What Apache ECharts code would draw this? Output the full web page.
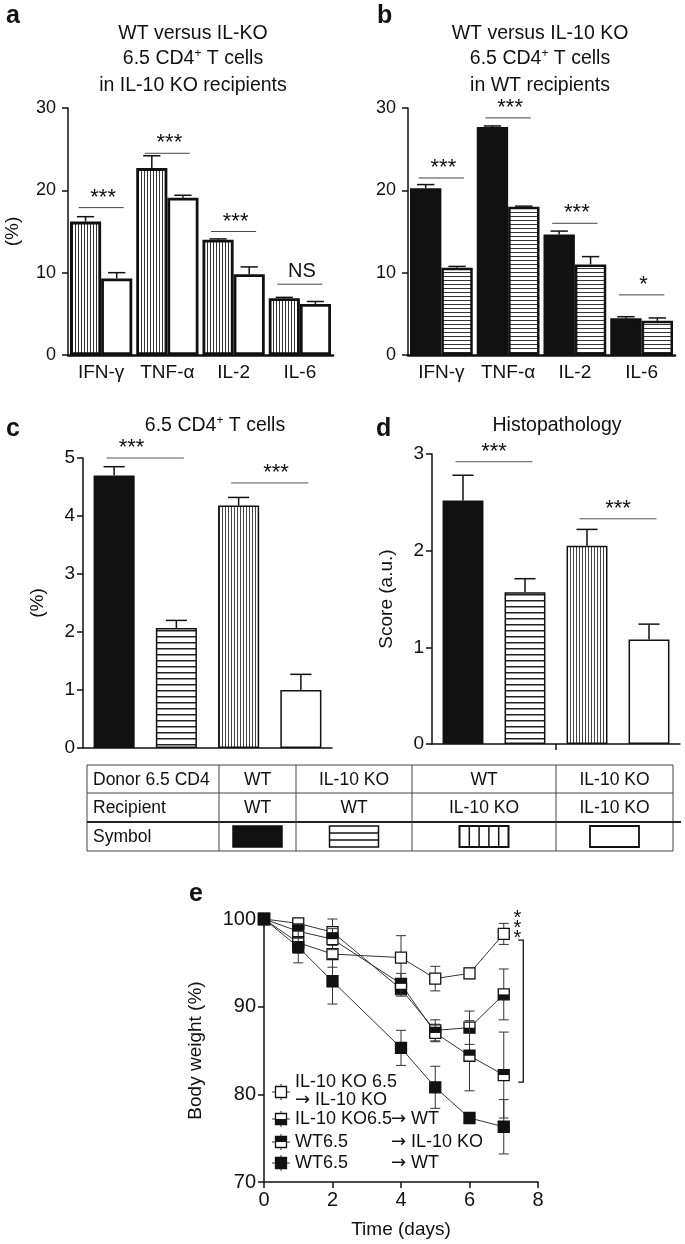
<!DOCTYPE html>
<html><head><meta charset="utf-8">
<script src="https://cdn.jsdelivr.net/npm/echarts@6/dist/echarts.min.js"></script>
<style>html,body{margin:0;padding:0;background:#fff}#c{width:685px;height:1244px}</style>
</head><body><div id="c"></div>
<script>
// ---------------- DATA ----------------
const cytokines = ['IFN-γ', 'TNF-α', 'IL-2', 'IL-6'];
// panel a: WT vs IL-10 KO 6.5 CD4+ T cells in IL-10 KO recipients (%)
const aWT = [16.2, 22.7, 14.0, 6.9];
const aWTErr = [0.6, 1.5, 0.1, 0.1];
const aKO = [9.3, 19.1, 9.8, 6.2];
const aKOErr = [0.7, 0.3, 0.9, 0.3];
const aSig = [17.9, 24.5, 15.0, 8.6];
const aSigLabels = ['***', '***', '***', 'NS'];
// panel b: in WT recipients (%)
const bWT = [20.25, 27.7, 14.65, 4.45];
const bWTErr = [0.45, 0.12, 0.4, 0.2];
const bKO = [10.6, 18.0, 11.0, 4.15];
const bKOErr = [0.16, 0.08, 0.95, 0.35];
const bSig = [21.5, 28.8, 16.0, 7.3];
const bSigLabels = ['***', '***', '***', '*'];
// panels c, d: groups (donor -> recipient)
const groups = ['WT→WT', 'IL-10 KO→WT', 'WT→IL-10 KO', 'IL-10 KO→IL-10 KO'];
const cVals = [4.7, 2.07, 4.18, 1.0];
const cErr = [0.15, 0.13, 0.14, 0.27];
const cSig = [[0, 1, 5.0, '***'], [2, 3, 4.57, '***']];
const dVals = [2.52, 1.57, 2.05, 1.08];
const dErr = [0.26, 0.14, 0.17, 0.16];
const dSig = [[0, 1, 2.92, '***'], [2, 3, 2.33, '***']];
// table
const tableRows = [
  ['Donor 6.5 CD4', 'WT', 'IL-10 KO', 'WT', 'IL-10 KO'],
  ['Recipient', 'WT', 'WT', 'IL-10 KO', 'IL-10 KO'],
  ['Symbol']
];
// panel e: body weight (%)
const days = [0, 1, 2, 4, 5, 6, 7];
const eKOtoKO = [100, 97.3, 96.0, 95.6, 93.2, 93.8, 98.3];
const eKOtoKOErr = [0, 1.2, 1.5, 2.5, 1.4, 0.6, 1.2];
const eKOtoWT = [100, 99.5, 98.5, 92.0, 87.3, 87.6, 91.4];
const eKOtoWTErr = [0, 0.5, 1.5, 0.8, 1.2, 1.9, 2.9];
const eWTtoKO = [100, 98.6, 97.7, 92.6, 87.0, 84.4, 82.2];
const eWTtoKOErr = [0, 0.8, 1.2, 1.2, 1.0, 4.0, 4.9];
const eWTtoWT = [100, 96.8, 92.9, 85.3, 80.8, 77.3, 76.3];
const eWTtoWTErr = [0, 1.8, 2.6, 2.0, 2.4, 0.5, 3.1];
const eBracket = [[7.57, 97.6, 81.4, '***']];
const eTicksX = [0, 2, 4, 6, 8];
const eTicksY = [70, 80, 90, 100];

// ---------------- STYLE HELPERS ----------------
const FONT = '"Liberation Sans", Arial, Helvetica, sans-serif';
const INK = '#111';
function hatch(dir, gap, lw, color) {
  const c = document.createElement('canvas');
  c.width = dir === 'v' ? gap : 8; c.height = dir === 'v' ? 8 : gap;
  const ctx = c.getContext('2d');
  ctx.fillStyle = '#fff'; ctx.fillRect(0, 0, c.width, c.height);
  ctx.fillStyle = color;
  if (dir === 'v') ctx.fillRect(0, 0, lw, c.height); else ctx.fillRect(0, 0, c.width, lw);
  return { image: c, repeat: 'repeat' };
}
const vHatchA = hatch('v', 3, 1, '#333');
const hHatchB = hatch('h', 4, 1, '#333');
const vHatchC = hatch('v', 3, 1, '#444');
const hHatchC = hatch('h', 6, 1.5, '#222');

function errRender(offFrac, capFrac, lw) {
  return function (params, api) {
    const cat = api.value(0), v = api.value(1), e = api.value(2);
    const band = api.size([1, 0])[0];
    const p0 = api.coord([cat, v]), p1 = api.coord([cat, v + e]);
    const x = p0[0] + offFrac * band, h = capFrac * band / 2;
    return { type: 'group', children: [
      { type: 'line', shape: { x1: x, y1: p0[1], x2: x, y2: p1[1] }, style: { stroke: INK, lineWidth: lw } },
      { type: 'line', shape: { x1: x - h, y1: p1[1], x2: x + h, y2: p1[1] }, style: { stroke: INK, lineWidth: lw } }
    ] };
  };
}
function sigGroupRender(labels, spanFrac) {
  return function (params, api) {
    const cat = api.value(0), y = api.value(1);
    const band = api.size([1, 0])[0];
    const p = api.coord([cat, y]);
    const lab = labels[params.dataIndex];
    const isStar = lab.indexOf('*') >= 0;
    return { type: 'group', children: [
      { type: 'line', shape: { x1: p[0] - spanFrac * band, y1: p[1], x2: p[0] + spanFrac * band, y2: p[1] }, style: { stroke: '#444', lineWidth: 1 } },
      { type: 'text', x: p[0] + 2, y: p[1] - (isStar ? -1 : 3), style: { text: lab, fontFamily: FONT, fontSize: isStar ? 22 : 20, fill: INK, align: 'center', verticalAlign: 'bottom' } }
    ] };
  };
}
function sigPairRender(ext, labelShift) {
  return function (params, api) {
    const a = api.value(0), b = api.value(1), y = api.value(2);
    const band = api.size([1, 0])[0];
    const pa = api.coord([a, y]), pb = api.coord([b, y]);
    const x1 = pa[0] - ext * band, x2 = pb[0] + ext * band;
    return { type: 'group', children: [
      { type: 'line', shape: { x1: x1, y1: pa[1], x2: x2, y2: pa[1] }, style: { stroke: '#555', lineWidth: 1 } },
      { type: 'text', x: (x1 + x2) / 2 + labelShift[params.dataIndex] * band, y: pa[1] + 1, style: { text: '***', fontFamily: FONT, fontSize: 22, fill: INK, align: 'center', verticalAlign: 'bottom' } }
    ] };
  };
}
function markerRender(kind) {
  return function (params, api) {
    const d = api.value(0), v = api.value(1), e = api.value(2);
    const p = api.coord([d, v]);
    const ch = [];
    if (e > 0) {
      const pt = api.coord([d, v + e]), pb = api.coord([d, v - e]);
      ch.push({ type: 'line', shape: { x1: p[0], y1: pt[1], x2: p[0], y2: pb[1] }, style: { stroke: '#333', lineWidth: 1 } });
      ch.push({ type: 'line', shape: { x1: p[0] - 5, y1: pt[1], x2: p[0] + 5, y2: pt[1] }, style: { stroke: '#333', lineWidth: 1 } });
      ch.push({ type: 'line', shape: { x1: p[0] - 5, y1: pb[1], x2: p[0] + 5, y2: pb[1] }, style: { stroke: '#333', lineWidth: 1 } });
    }
    ch.push.apply(ch, squareEls(p[0], p[1], kind));
    return { type: 'group', children: ch };
  };
}
function squareEls(cx, cy, kind) {
  const s = 11, x = cx - s / 2, y = cy - s / 2;
  const els = [{ type: 'rect', shape: { x: x, y: y, width: s, height: s }, style: { fill: kind === 'filled' ? INK : '#fff', stroke: INK, lineWidth: 1.3 } }];
  if (kind === 'bottomFilled') els.push({ type: 'rect', shape: { x: x, y: cy, width: s, height: s / 2 }, style: { fill: INK } });
  if (kind === 'topFilled') els.push({ type: 'rect', shape: { x: x, y: y, width: s, height: s / 2 }, style: { fill: INK } });
  return els;
}
function bracketRender(params, api) {
  const x = api.value(0), y1 = api.value(1), y2 = api.value(2);
  const pt = api.coord([x, y1]), pb = api.coord([x, y2]);
  const ch = [
    { type: 'polyline', shape: { points: [[pt[0] - 5, pt[1]], [pt[0], pt[1]], [pb[0], pb[1]], [pb[0] - 5, pb[1]]] }, style: { stroke: INK, lineWidth: 1.3, fill: null } }
  ];
  for (let i = 0; i < 3; i++) {
    ch.push({ type: 'text', x: pt[0] - 6, y: pt[1] - 22 + i * 10, style: { text: '*', fontFamily: FONT, fontSize: 20, fill: INK, align: 'center', verticalAlign: 'middle' } });
  }
  return { type: 'group', children: ch };
}

// ---------------- AXES ----------------
const axLine = (w) => ({ show: true, lineStyle: { color: INK, width: w } });
function catAxis(grid, labels, showLabel) {
  return {
    type: 'category', gridIndex: grid, data: labels, boundaryGap: true,
    axisLine: axLine(grid < 2 ? 2.5 : 1.5), axisTick: { show: false },
    axisLabel: { show: showLabel, interval: 0, fontFamily: FONT, fontSize: 19, color: INK, margin: 8 },
    splitLine: { show: false }
  };
}
function valAxis(grid, min, max, interval, name, nameGap, fs, margin) {
  return {
    type: 'value', gridIndex: grid, min: min, max: max, interval: interval,
    axisLine: axLine(1.5), axisTick: { show: true, inside: false, length: 6, lineStyle: { color: INK, width: 1.5 } },
    axisLabel: { fontFamily: FONT, fontSize: fs, color: INK, margin: margin },
    splitLine: { show: false },
    name: name, nameLocation: 'middle', nameGap: nameGap,
    nameTextStyle: { fontFamily: FONT, fontSize: 19, color: INK }
  };
}
const xAxes = [
  catAxis(0, cytokines, true),
  catAxis(1, cytokines, true),
  catAxis(2, groups, false),
  catAxis(3, groups, false),
  {
    type: 'value', gridIndex: 4, min: 0, max: 8, interval: 2,
    axisLine: axLine(1.5), axisTick: { show: true, length: 6, lineStyle: { color: INK, width: 1.5 } },
    axisLabel: { fontFamily: FONT, fontSize: 20, color: INK, margin: 8 },
    splitLine: { show: false },
    name: 'Time (days)', nameLocation: 'middle', nameGap: 38,
    nameTextStyle: { fontFamily: FONT, fontSize: 19, color: INK }
  }
];
const yAxes = [
  valAxis(0, 0, 30, 10, '(%)', 46, 18, 12),
  valAxis(1, 0, 30, 10, '', 40, 18, 12),
  valAxis(2, 0, 5, 1, '(%)', 36, 19, 8),
  valAxis(3, 0, 3, 1, 'Score (a.u.)', 36, 19, 8),
  Object.assign(valAxis(4, 70, 100, 10, 'Body weight (%)', 56, 20, 5), { offset: 3 })
];

// ---------------- SERIES ----------------
const barBase = (name, x, data, color, bw, lw, width) => ({
  type: 'bar', name: name, xAxisIndex: x, yAxisIndex: x, data: data,
  barWidth: width, barGap: '0%',
  itemStyle: { color: color, borderColor: INK, borderWidth: bw }
});
const custom = (x, data, render, z) => ({
  type: 'custom', xAxisIndex: x, yAxisIndex: x, data: data, renderItem: render, clip: false, z: z || 5,
  silent: true
});
const series = [];
// a
series.push(barBase('WT 6.5 → IL-10 KO', 0, aWT, vHatchA, 2.8, 0, '47%'));
series.push(barBase('IL-10 KO 6.5 → IL-10 KO', 0, aKO, '#fff', 2.8, 0, '47%'));
series.push(custom(0, aWT.map((v, i) => [i, v, aWTErr[i]]), errRender(-0.235, 0.26, 1.5)));
series.push(custom(0, aKO.map((v, i) => [i, v, aKOErr[i]]), errRender(0.235, 0.26, 1.5)));
series.push(custom(0, aSig.map((v, i) => [i, v]), sigGroupRender(aSigLabels, 0.34)));
// b
series.push(barBase('WT 6.5 → WT', 1, bWT, INK, 2, 0, '47%'));
series.push(barBase('IL-10 KO 6.5 → WT', 1, bKO, hHatchB, 2.5, 0, '47%'));
series.push(custom(1, bWT.map((v, i) => [i, v, bWTErr[i]]), errRender(-0.235, 0.26, 1.5)));
series.push(custom(1, bKO.map((v, i) => [i, v, bKOErr[i]]), errRender(0.235, 0.26, 1.5)));
series.push(custom(1, bSig.map((v, i) => [i, v]), sigGroupRender(bSigLabels, 0.34)));
// c, d
const groupFills = [
  { color: INK }, { color: hHatchC }, { color: vHatchC }, { color: '#fff' }
];
function groupData(vals) {
  return vals.map((v, i) => ({ value: v, itemStyle: { color: groupFills[i].color, borderColor: INK, borderWidth: 1.5 } }));
}
series.push(barBase('6.5 CD4+ T cells', 2, groupData(cVals), INK, 1.5, 0, '66%'));
series.push(custom(2, cVals.map((v, i) => [i, v, cErr[i]]), errRender(0, 0.34, 1.5)));
series.push(custom(2, cSig, sigPairRender(0.12, [-0.22, 0.1])));
series.push(barBase('Histopathology', 3, groupData(dVals), INK, 1.5, 0, '66%'));
series.push(custom(3, dVals.map((v, i) => [i, v, dErr[i]]), errRender(0, 0.34, 1.5)));
series.push(custom(3, dSig, sigPairRender(0.12, [0, 0])));
// e
const eSeries = [
  ['IL-10 KO 6.5 → IL-10 KO', eKOtoKO, eKOtoKOErr, 'open'],
  ['IL-10 KO6.5 → WT', eKOtoWT, eKOtoWTErr, 'bottomFilled'],
  ['WT6.5 → IL-10 KO', eWTtoKO, eWTtoKOErr, 'topFilled'],
  ['WT6.5 → WT', eWTtoWT, eWTtoWTErr, 'filled']
];
eSeries.forEach((s) => {
  series.push({ type: 'line', name: s[0], xAxisIndex: 4, yAxisIndex: 4, data: days.map((d, i) => [d, s[1][i]]), symbol: 'none', lineStyle: { color: '#333', width: 1 }, z: 2 });
});
eSeries.forEach((s, k) => {
  series.push(custom(4, days.map((d, i) => [d, s[1][i], s[2][i]]), markerRender(s[3]), 6 + k));
});
series.push(custom(4, eBracket, bracketRender));

// ---------------- GRAPHIC (titles, letters, table, legend) ----------------
const T = (x, y, text, fs, opts) => Object.assign({
  type: 'text', x: x, y: y,
  style: Object.assign({ text: text, fontFamily: FONT, fontSize: fs, fill: INK, align: 'center', verticalAlign: 'middle',
    rich: {
      sup: { fontSize: 12, fontFamily: FONT, fill: INK, verticalAlign: 'top', padding: [0, 0, 10, 0] },
      n: { fontSize: fs, fontFamily: FONT, fill: INK },
      ar: { fontSize: fs, fontFamily: '"DejaVu Sans", sans-serif', fill: INK }
    } }, opts || {})
});
const graphic = [];
// panel letters
[['a', 6, 16], ['b', 377, 16], ['c', 6, 429], ['d', 376, 429], ['e', 189, 894]].forEach((l) => {
  graphic.push(T(l[1], l[2], l[0], 25, { fontWeight: 'bold', align: 'left' }));
});
// titles
graphic.push(T(193, 34, 'WT versus IL-KO', 19.5));
graphic.push(T(193, 59, '{n|6.5 CD4}{sup|+}{n| T cells}', 19.5));
graphic.push(T(193, 86, 'in IL-10 KO recipients', 19.5));
graphic.push(T(540, 34, 'WT versus IL-10 KO', 19.5));
graphic.push(T(540, 59, '{n|6.5 CD4}{sup|+}{n| T cells}', 19.5));
graphic.push(T(540, 86, 'in WT recipients', 19.5));
graphic.push(T(215, 426, '{n|6.5 CD4}{sup|+}{n| T cells}', 19.5));
graphic.push(T(557, 426, 'Histopathology', 19.5));
// table
const tX = [87, 219, 296, 412, 556, 673];
const tY = [765, 793, 822, 851];
graphic.push({ type: 'rect', shape: { x: tX[0], y: tY[0], width: tX[5] - tX[0], height: tY[3] - tY[0] }, style: { fill: null, stroke: '#444', lineWidth: 1 } });
graphic.push({ type: 'line', shape: { x1: tX[0], y1: tY[1], x2: tX[5], y2: tY[1] }, style: { stroke: '#444', lineWidth: 1 } });
graphic.push({ type: 'line', shape: { x1: tX[0], y1: tY[2], x2: tX[5] + 8, y2: tY[2] }, style: { stroke: '#222', lineWidth: 2 } });
for (let i = 1; i < 5; i++) graphic.push({ type: 'line', shape: { x1: tX[i], y1: tY[0], x2: tX[i], y2: tY[3] }, style: { stroke: '#444', lineWidth: 1 } });
tableRows.forEach((row, r) => {
  const cy = (tY[r] + tY[r + 1]) / 2 + 1;
  row.forEach((txt, c) => {
    if (c === 0) graphic.push(T(tX[0] + 6, cy, txt, 17.5, { align: 'left' }));
    else graphic.push(T((tX[c] + tX[c + 1]) / 2, cy, txt, 17.5));
  });
});
(function () {
  const cy = (tY[2] + tY[3]) / 2, w = 49, h = 21;
  const cx = [1, 2, 3, 4].map((c) => (tX[c] + tX[c + 1]) / 2);
  graphic.push({ type: 'rect', shape: { x: cx[0] - w / 2, y: cy - h / 2, width: w, height: h }, style: { fill: INK, stroke: INK, lineWidth: 1.5 } });
  graphic.push({ type: 'rect', shape: { x: cx[1] - w / 2, y: cy - h / 2, width: w, height: h }, style: { fill: '#fff', stroke: INK, lineWidth: 1.5 } });
  for (let k = 1; k < 3; k++) graphic.push({ type: 'line', shape: { x1: cx[1] - w / 2, y1: cy - h / 2 + k * h / 3, x2: cx[1] + w / 2, y2: cy - h / 2 + k * h / 3 }, style: { stroke: INK, lineWidth: 1.5 } });
  graphic.push({ type: 'rect', shape: { x: cx[2] - w / 2, y: cy - h / 2, width: w, height: h }, style: { fill: '#fff', stroke: INK, lineWidth: 2 } });
  for (let k = 1; k < 5; k++) graphic.push({ type: 'line', shape: { x1: cx[2] - w / 2 + k * w / 5, y1: cy - h / 2, x2: cx[2] - w / 2 + k * w / 5, y2: cy + h / 2 }, style: { stroke: INK, lineWidth: 1.5 } });
  graphic.push({ type: 'rect', shape: { x: cx[3] - w / 2, y: cy - h / 2, width: w, height: h }, style: { fill: '#fff', stroke: INK, lineWidth: 1.8 } });
})();
// panel e legend
const legendRows = [
  { y: 1092, kind: 'open', lines: [['IL-10 KO 6.5', 295, 1082], ['{ar|→} IL-10 KO', 295, 1100]] },
  { y: 1119, kind: 'bottomFilled', lines: [['IL-10 KO6.5', 295, 1119], ['{ar|→} WT', 391, 1119]] },
  { y: 1142, kind: 'topFilled', lines: [['WT6.5', 295, 1142], ['{ar|→} IL-10 KO', 391, 1142]] },
  { y: 1163, kind: 'filled', lines: [['WT6.5', 295, 1163], ['{ar|→} WT', 391, 1163]] }
];
legendRows.forEach((r) => {
  graphic.push({ type: 'line', shape: { x1: 272, y1: r.y, x2: 290, y2: r.y }, style: { stroke: '#333', lineWidth: 1 } });
  graphic.push({ type: 'line', shape: { x1: 281, y1: r.y - 8, x2: 281, y2: r.y + 8 }, style: { stroke: '#333', lineWidth: 1 } });
  squareEls(281, r.y, r.kind).forEach((e) => graphic.push(e));
  r.lines.forEach((l) => graphic.push(T(l[1], l[2], l[0], 18, { align: 'left' })));
});

const chart = echarts.init(document.getElementById('c'), null, { renderer: 'canvas', width: 685, height: 1244 });
chart.setOption({
  backgroundColor: '#fff',
  animation: false,
  grid: [
    { left: 68, top: 108, width: 265, height: 247, containLabel: false, outerBoundsMode: 'none' },
    { left: 408, top: 108, width: 267, height: 247, containLabel: false, outerBoundsMode: 'none' },
    { left: 83, top: 458, width: 249, height: 290, containLabel: false, outerBoundsMode: 'none' },
    { left: 432, top: 454, width: 248, height: 290, containLabel: false, outerBoundsMode: 'none' },
    { left: 264, top: 919, width: 274, height: 263, containLabel: false, outerBoundsMode: 'none' }
  ],
  xAxis: xAxes,
  yAxis: yAxes,
  series: series,
  graphic: { elements: graphic }
});
// single mid-axis tick on panel d's x axis (between 2nd and 3rd group), placed through the axis scale
(function () {
  const p1 = chart.convertToPixel({ gridIndex: 3 }, [1, 0]);
  const p2 = chart.convertToPixel({ gridIndex: 3 }, [2, 0]);
  const mx = (p1[0] + p2[0]) / 2;
  graphic.push({ type: 'line', shape: { x1: mx, y1: p1[1], x2: mx, y2: p1[1] + 6 }, style: { stroke: INK, lineWidth: 1.5 } });
  chart.setOption({ graphic: { elements: graphic } });
})();
</script>
</body></html>
